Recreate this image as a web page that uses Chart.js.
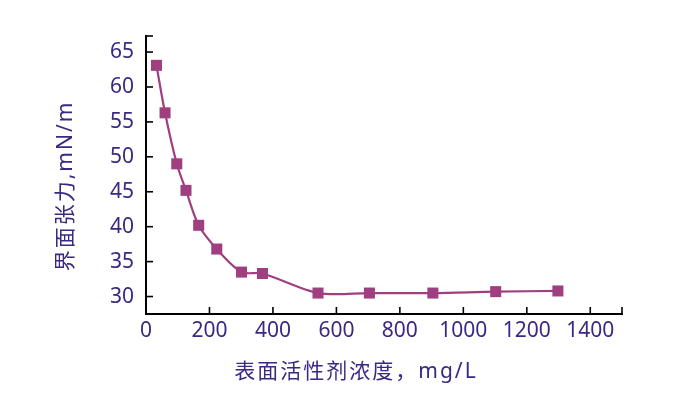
<!DOCTYPE html>
<html>
<head>
<meta charset="utf-8">
<script src="https://cdn.jsdelivr.net/npm/chart.js@4/dist/chart.umd.min.js"></script>
<style>
  html, body { margin: 0; padding: 0; background: #ffffff; }
  #wrap { width: 689px; height: 397px; }
</style>
</head>
<body>
<div id="wrap"><canvas id="c" width="689" height="397"></canvas></div>
<script>
// ---- data ----
const concentration = [33, 60, 97, 126, 166, 223, 301, 367, 542, 704, 904, 1102, 1298];
const tension = [63.1, 56.3, 49.0, 45.2, 40.2, 36.8, 33.5, 33.3, 30.5, 30.5, 30.5, 30.7, 30.8];
const xTicks = [0, 200, 400, 600, 800, 1000, 1200, 1400];
const yTicks = [30, 35, 40, 45, 50, 55, 60, 65];
const xTitle = '表面活性剂浓度，mg/L';
const yTitle = '界面张力,mN/m';

const textColor = '#3a2882';
const markColor = '#9f3f80';
const tickFont = { family: "'Noto Sans', 'Open Sans', sans-serif", size: 21 };

const innerTicks = {
  id: 'innerTicks',
  afterDraw(chart) {
    const ctx = chart.ctx;
    const xs = chart.scales.x, ys = chart.scales.y;
    const a = chart.chartArea;
    ctx.save();
    ctx.strokeStyle = '#000';
    ctx.lineWidth = 1.6;
    const len = 7;
    xTicks.concat([xs.max]).forEach(v => {
      const px = xs.getPixelForValue(v);
      ctx.beginPath(); ctx.moveTo(px, a.bottom); ctx.lineTo(px, a.bottom - len); ctx.stroke();
    });
    yTicks.concat([ys.max]).forEach(v => {
      const py = ys.getPixelForValue(v);
      ctx.beginPath(); ctx.moveTo(a.left, py); ctx.lineTo(a.left + len, py); ctx.stroke();
    });
    // titles
    ctx.fillStyle = textColor;
    ctx.font = "21px 'Noto Sans', 'Noto Sans CJK SC', sans-serif";
    ctx.textAlign = 'center';
    ctx.textBaseline = 'middle';
    ctx.letterSpacing = '2px';
    ctx.fillText(xTitle, 356, 372);
    ctx.save();
    ctx.translate(66, 186);
    ctx.rotate(-Math.PI / 2);
    ctx.fillText(yTitle, 0, 0);
    ctx.restore();
    ctx.restore();
  }
};

new Chart(document.getElementById('c'), {
  type: 'line',
  data: {
    datasets: [{
      data: concentration.map((x, i) => ({ x, y: tension[i] })),
      borderColor: markColor,
      backgroundColor: markColor,
      borderWidth: 2.2,
      pointStyle: 'rect',
      pointRadius: 7.8,
      pointBorderWidth: 0,
      pointBackgroundColor: markColor,
      tension: 0.3,
      fill: false
    }]
  },
  options: {
    responsive: false,
    animation: false,
    devicePixelRatio: 1,
    layout: { padding: { top: 36, right: 67, bottom: 0, left: 0 } },
    plugins: { legend: { display: false }, tooltip: { enabled: false } },
    scales: {
      x: {
        type: 'linear',
        min: 0, max: 1500,
        afterBuildTicks(s) { s.ticks = xTicks.map(v => ({ value: v })); },
        afterFit(s) { s.height = 83; },
        grid: { display: false, drawTicks: false },
        border: { display: true, color: '#000', width: 2 },
        ticks: { color: textColor, font: tickFont, padding: 4, maxRotation: 0, autoSkip: false,
                 callback: v => String(v) }
      },
      y: {
        type: 'linear',
        min: 27.5, max: 67.3,
        afterBuildTicks(s) { s.ticks = yTicks.map(v => ({ value: v })); },
        afterFit(s) { s.width = 146; },
        grid: { display: false, drawTicks: false },
        border: { display: true, color: '#000', width: 2 },
        ticks: { color: textColor, font: tickFont, padding: 12, autoSkip: false,
                 callback: v => String(v) }
      }
    }
  },
  plugins: [innerTicks]
});
</script>
</body>
</html>
